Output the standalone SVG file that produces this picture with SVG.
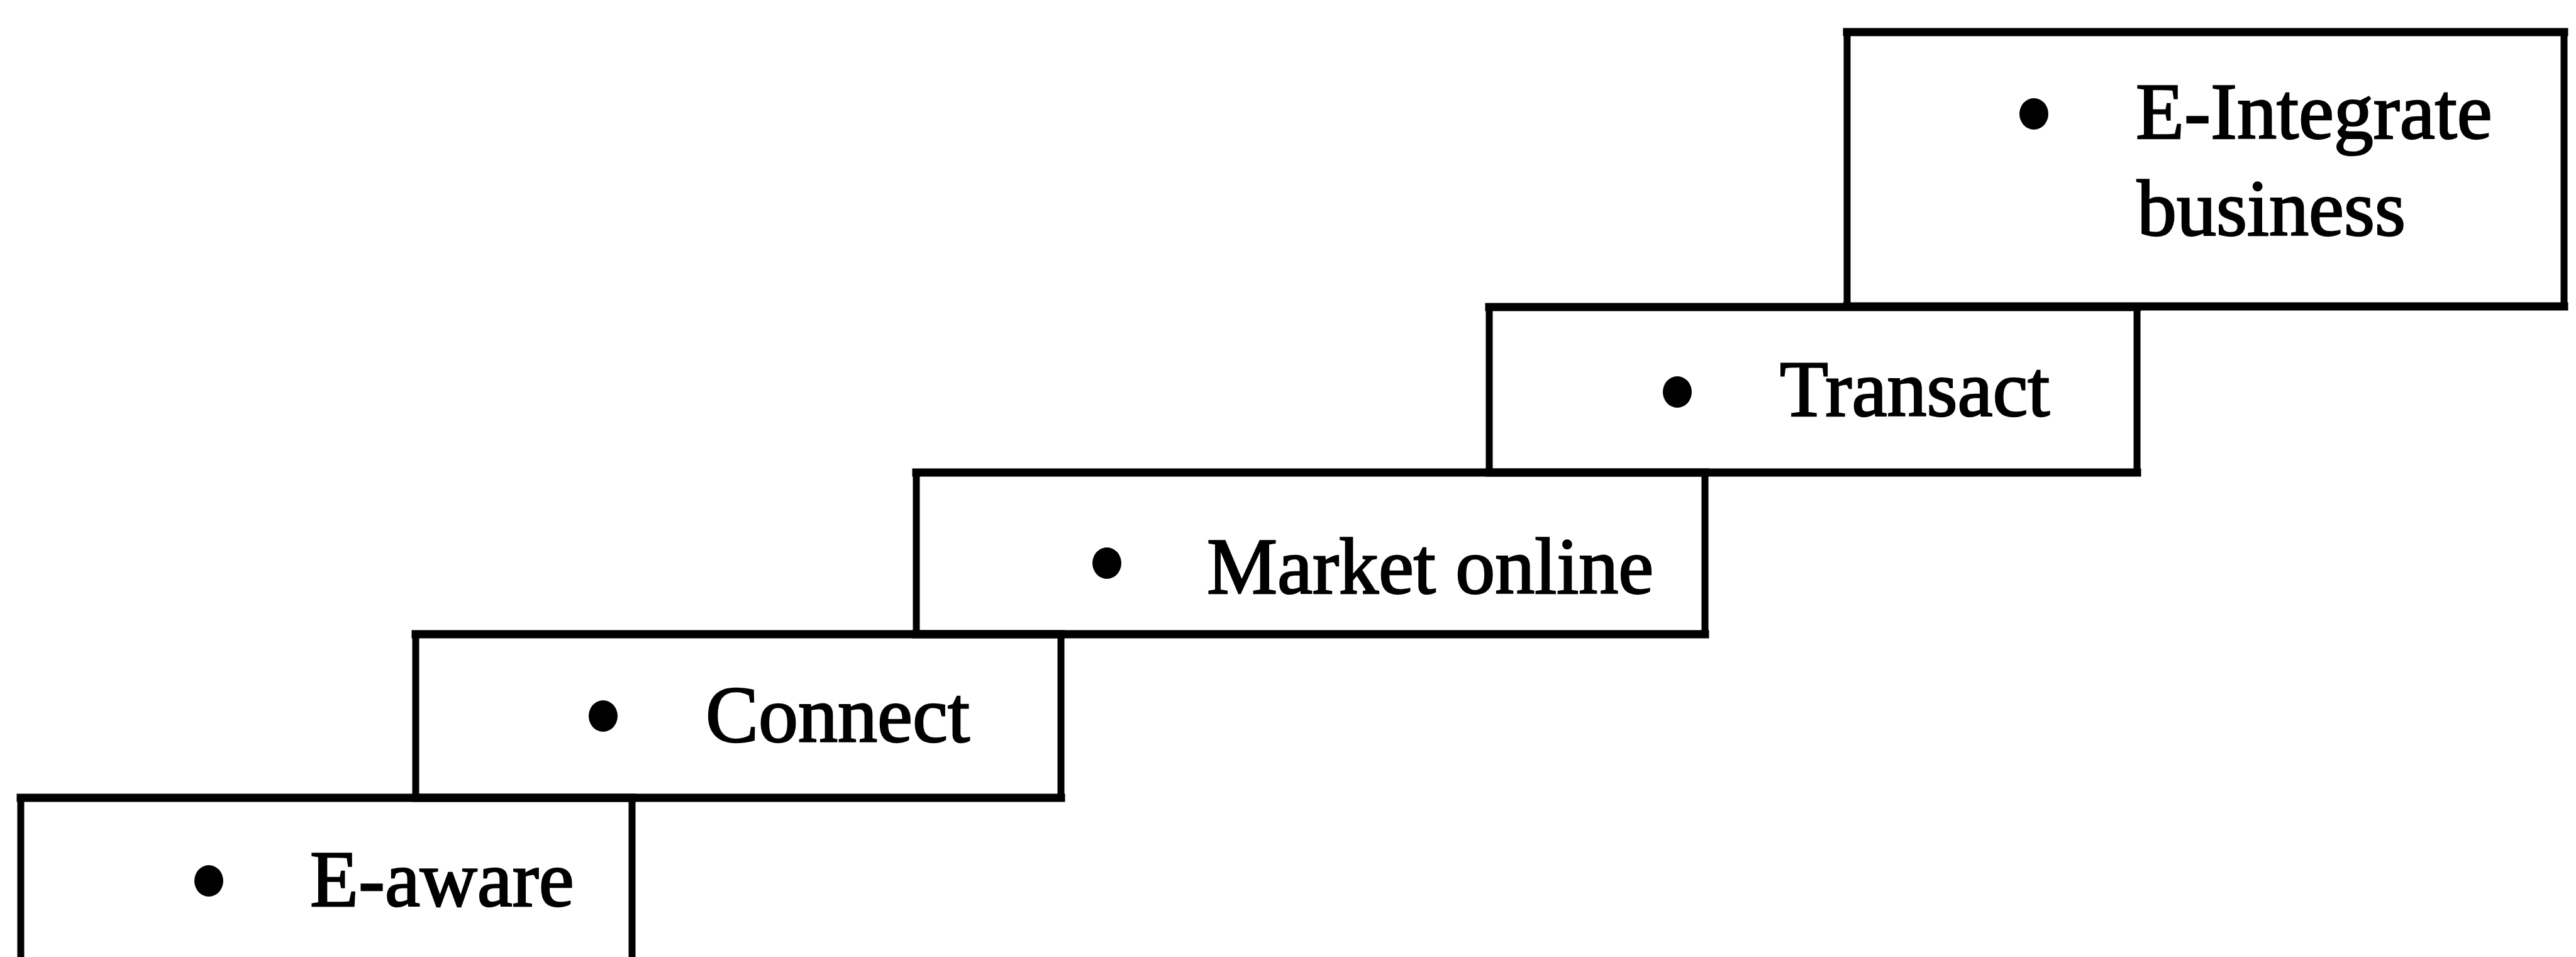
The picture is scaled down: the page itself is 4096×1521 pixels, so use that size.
<svg xmlns="http://www.w3.org/2000/svg" width="4096" height="1521" viewBox="0 0 4096 1521">
  <style>
    .edge-h { stroke: #000; stroke-width: 13; fill: none; stroke-linecap: square; }
    .edge-v { stroke: #000; stroke-width: 11; fill: none; }
    .dot { fill: #000; }
    .label { font-family: "Liberation Serif", "Times New Roman", serif; font-size: 126px; fill: #000; stroke: #000; stroke-width: 2.5; }
  </style>
  <rect x="0" y="0" width="4096" height="1521" fill="#fff"/>

  <!-- Step 1: bottom step, open at the lower edge -->
  <g id="step-e-aware">
    <path class="edge-h" d="M33 1268 H1005"/>
    <path class="edge-v" d="M33 1268 V1530 M1005 1268 V1530"/>
    <ellipse class="dot" cx="332" cy="1400" rx="23" ry="25"/>
    <text class="label" x="493" y="1440">E-aware</text>
  </g>

  <!-- Step 2 -->
  <g id="step-connect">
    <path class="edge-h" d="M661 1008 H1687 M661 1268 H1687"/>
    <path class="edge-v" d="M661 1008 V1268 M1687 1008 V1268"/>
    <ellipse class="dot" cx="959" cy="1138" rx="23" ry="25"/>
    <text class="label" x="1122" y="1179">Connect</text>
  </g>

  <!-- Step 3 -->
  <g id="step-market-online">
    <path class="edge-h" d="M1457 751 H2711 M1457 1008 H2711"/>
    <path class="edge-v" d="M1457 751 V1008 M2711 751 V1008"/>
    <ellipse class="dot" cx="1760" cy="895" rx="23" ry="25"/>
    <text class="label" x="1919" y="943">Market online</text>
  </g>

  <!-- Step 4 -->
  <g id="step-transact">
    <path class="edge-h" d="M2368 488 H3398 M2368 751 H3398"/>
    <path class="edge-v" d="M2368 488 V751 M3398 488 V751"/>
    <ellipse class="dot" cx="2667" cy="623" rx="23" ry="25"/>
    <text class="label" x="2830" y="661">Transact</text>
  </g>

  <!-- Step 5: top step -->
  <g id="step-e-integrate">
    <path class="edge-h" d="M2937 51 H4077 M2937 487 H4077"/>
    <path class="edge-v" d="M2937 51 V487 M4077 51 V487"/>
    <ellipse class="dot" cx="3234" cy="181" rx="23" ry="25"/>
    <text class="label" x="3396" y="220">E-Integrate</text>
    <text class="label" x="3398" y="374">business</text>
  </g>
</svg>
